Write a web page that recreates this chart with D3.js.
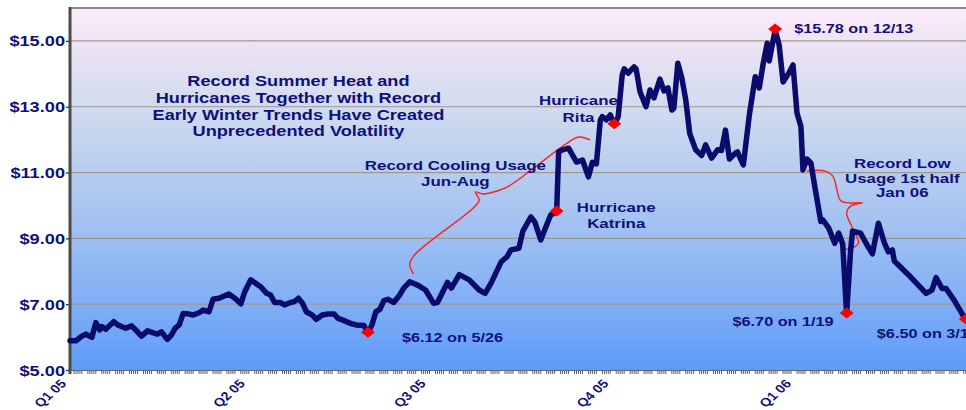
<!DOCTYPE html>
<html><head><meta charset="utf-8">
<script src="https://cdn.jsdelivr.net/npm/d3@7"></script>
<style>html,body{margin:0;padding:0;background:#fff;overflow:hidden}</style>
</head><body><svg id="c" width="966" height="410"></svg>
<script>
// ---------- data ----------
const quarterLabels = ["Q1 05", "Q2 05", "Q3 05", "Q4 05", "Q1 06"];
const quarterStarts = ["2005-01-01", "2005-04-01", "2005-07-01", "2005-10-01", "2006-01-01"];
const yTicks = [5, 7, 9, 11, 13, 15];
// day offsets from 2005-01-01
const days = [0,3,6,8,11,13,15,16,18,22,
  24,28,31,34,36,39,42,44,46,49,
  51,53,55,57,60,62,65,67,70,72,
  75,80,83,86,88,91,94,96,99,101,
  103,106,108,111,113,115,117,119,122,124,
  127,130,133,135,138,141,144,148,150,152,
  154,156,158,160,163,166,168,171,175,179,
  183,185,190,192,196,201,206,209,212,217,
  220,222,226,228,232,234,237,239,242,245,
  246,248,251,253,255,258,261,263,265,267,
  268,270,272,274,276,278,279,281,284,285,
  287,290,292,294,297,299,301,303,304,306,
  308,310,312,315,318,320,323,326,328,330,
  332,335,336,339,342,345,347,349,351,352,
  355,357,359,362,364,366,368,369,371,373,
  375,378,379,382,385,387,389,391,393,394,
  398,401,404,407,410,412,414,415,423,431,
  434,436,439,441,445,451];
const prices = [5.89,5.89,6.03,6.09,5.99,6.44,6.22,6.32,6.24,6.47,
  6.37,6.27,6.34,6.16,6.03,6.19,6.13,6.09,6.16,5.93,
  6.06,6.27,6.37,6.72,6.70,6.67,6.74,6.82,6.77,7.15,
  7.18,7.31,7.18,7.01,7.38,7.74,7.61,7.53,7.33,7.28,
  7.05,7.05,6.98,7.05,7.08,7.18,7.03,6.77,6.67,6.54,
  6.67,6.70,6.70,6.57,6.50,6.42,6.37,6.35,6.12,6.37,
  6.77,6.84,7.11,7.15,7.05,7.28,7.49,7.68,7.58,7.43,
  7.03,7.05,7.66,7.49,7.90,7.74,7.43,7.33,7.64,8.28,
  8.44,8.65,8.70,9.22,9.65,9.50,8.95,9.26,9.71,9.80,
  11.63,11.69,11.74,11.53,11.32,11.38,10.87,11.31,11.26,12.60,
  12.70,12.60,12.75,12.45,12.70,13.97,14.15,14.02,14.21,14.15,
  13.45,13.00,13.51,13.27,13.84,13.48,13.57,12.90,12.95,14.32,
  13.88,13.21,12.19,11.69,11.52,11.84,11.44,11.69,11.67,12.29,
  11.41,11.59,11.63,11.23,12.75,13.91,13.57,14.32,14.93,14.39,
  15.33,14.88,13.75,14.03,14.27,12.81,12.39,11.08,11.41,11.29,
  10.56,9.51,9.56,9.31,8.85,9.16,8.83,6.70,8.65,9.22,
  9.16,8.83,8.53,9.46,8.86,8.59,8.65,8.31,7.84,7.33,
  7.43,7.81,7.48,7.48,7.13,6.52];
const markerDays = [150, 245, 274, 355, 391, 451];
const markerLabels = ["$6.12 on 5/26", "", "", "$15.78 on 12/13", "$6.70 on 1/19", "$6.50 on 3/17"];
const markerLabelOffsets = [[34, 9, "start"], [0,0,"start"], [0,0,"start"], [19, 3, "start"], [-13, 12, "end"], [-89, 18, "start"]];
// free annotations: [day, price of first baseline, line gap px, lines, font size]
const notes = [
  [115, 13.63, 16.8, ["Record Summer Heat and", "Hurricanes Together with Record", "Early Winter Trends Have Created", "Unprecedented Volatility"], 14],
  [194, 11.08, 16, ["Record Cooling Usage", "Jun-Aug"], 13],
  [256.3, 13.05, 17, ["Hurricane", "Rita"], 13],
  [275.4, 9.80, 15.5, ["Hurricane", "Katrina"], 13],
  [419.4, 11.14, 14.6, ["Record Low", "Usage 1st half", "Jan 06"], 13]
];
// brace annotations in data coords [day, price]
const braceCooling = [[173.7,7.92],[171.7,8.22],[174.2,8.53],[203.4,9.92],[206.9,10.17],[204.9,10.41],[208.4,10.35],[215.5,10.44],[221.5,10.59],[249.2,11.84],[256.8,12.08],[262.8,11.99]];
const braceLow = [[371.6,11.05],[380.6,11.05],[384.1,10.90],[388.6,10.14],[392.1,10.08],[399.2,10.08],[393.2,9.98],[391.2,9.77],[397.2,8.86],[395.2,8.74],[389.7,8.65]];

// ---------- chart ----------
const SX = 1.3;
const NAVY = "#10107a";
const FONT = "Liberation Sans, Arial, sans-serif";
const svg = d3.select("#c");
const parse = d3.timeParse("%Y-%m-%d");
const start = parse("2005-01-01");
const x = d3.scaleTime().domain([start, parse("2006-01-01")]).range([70, 795]);
const y = d3.scaleLinear().domain([5, 16]).range([370, 8]);
const xd = d => x(d3.timeDay.offset(start, d));
const pL = 70, pT = 8, pB = 370, pR = 966;

const defs = svg.append("defs");
const grad = defs.append("linearGradient").attr("id", "bg").attr("x1", 0).attr("y1", 0).attr("x2", 0).attr("y2", 1);
[[0, "#fcebf8"], [0.1, "#ece3f4"], [0.28, "#d0dbef"], [0.46, "#b6ccef"], [0.64, "#9cbef2"], [0.82, "#80aef5"], [1, "#5c9cfa"]]
  .forEach(([o, c]) => grad.append("stop").attr("offset", o).attr("stop-color", c));

svg.append("rect").attr("x", pL).attr("y", pT).attr("width", pR - pL).attr("height", pB - pT).attr("fill", "url(#bg)");

// gridlines
svg.append("g").selectAll("line").data(yTicks.filter(v => v > 5)).join("line")
  .attr("x1", pL).attr("x2", pR).attr("y1", d => y(d)).attr("y2", d => y(d))
  .attr("stroke", "#9c9890").attr("stroke-width", 1.2);
// top border
svg.append("line").attr("x1", pL).attr("x2", pR).attr("y1", pT).attr("y2", pT).attr("stroke", "#8a8a8a").attr("stroke-width", 2);

// day ticks along bottom (weekdays)
const tickDays = d3.timeDay.range(start, d3.timeDay.offset(start, 453)).filter(d => d.getDay() !== 0 && d.getDay() !== 6);
svg.append("g").selectAll("line").data(tickDays).join("line")
  .attr("x1", d => x(d)).attr("x2", d => x(d)).attr("y1", pB).attr("y2", pB + 4)
  .attr("stroke", "#333").attr("stroke-width", 0.8);
svg.append("line").attr("x1", pL).attr("x2", pR).attr("y1", pB + 0.5).attr("y2", pB + 0.5).attr("stroke", "#666").attr("stroke-width", 1);

// y axis
const yAxis = svg.append("g").attr("transform", `translate(${pL},0)`)
  .call(d3.axisLeft(y).tickValues(yTicks).tickFormat(d => "$" + d.toFixed(2)).tickSize(4).tickPadding(2));
yAxis.select(".domain").remove();
yAxis.selectAll(".tick line").attr("stroke", "#222").attr("stroke-width", 1.2);
yAxis.selectAll(".tick text").attr("fill", NAVY).attr("font-family", FONT)
  .attr("font-weight", "bold").attr("font-size", 14).attr("x", -5 / SX).attr("dy", "0.36em")
  .attr("transform", `scale(${SX},1)`);
svg.append("line").attr("x1", pL).attr("x2", pL).attr("y1", pT - 1).attr("y2", pB + 4).attr("stroke", "#4a4a4a").attr("stroke-width", 3);

// x labels (rotated, then stretched like the rest of the picture)
svg.append("g").selectAll("text").data(quarterLabels).join("text")
  .attr("transform", (d, i) => `translate(${x(parse(quarterStarts[i])) - 3},${pB + 14}) scale(1.2,1) rotate(-48)`)
  .attr("text-anchor", "end").attr("fill", NAVY).attr("font-family", FONT)
  .attr("font-weight", "bold").attr("font-size", 12).text(d => d);

// braces
const bl = d3.line().x(d => xd(d[0])).y(d => y(d[1])).curve(d3.curveCatmullRom);
[braceCooling, braceLow].forEach(b => svg.append("path").attr("d", bl(b)).attr("fill", "none").attr("stroke", "#ff2020").attr("stroke-width", 1.4));

// price line
const series = days.map((d, i) => ({ d, v: prices[i] }));
const line = d3.line().x(p => xd(p.d)).y(p => y(p.v));
svg.append("path").attr("d", line(series)).attr("fill", "none").attr("stroke", "#0b0b6c").attr("stroke-width", 5.5)
  .attr("stroke-linejoin", "round").attr("stroke-linecap", "round");

// markers
const markers = markerDays.map(md => series.find(p => p.d === md));
svg.append("g").selectAll("path").data(markers).join("path")
  .attr("transform", p => `translate(${xd(p.d)},${y(p.v) - 1})`)
  .attr("d", "M0,-5.5L7,0L0,5.5L-7,0Z").attr("fill", "#ff0000");

function stretchText(g, px, py, str, size, anchor) {
  g.append("text").attr("transform", `translate(${px},${py}) scale(${SX},1)`)
    .attr("text-anchor", anchor).attr("fill", NAVY).attr("font-family", FONT)
    .attr("font-weight", "bold").attr("font-size", size).text(str);
}
const tg = svg.append("g");
markers.forEach((p, i) => {
  if (!markerLabels[i]) return;
  const [dx, dy, a] = markerLabelOffsets[i];
  stretchText(tg, xd(p.d) + dx, y(p.v) + dy, markerLabels[i], 12.5, a);
});
notes.forEach(([d, v, gap, lines, size]) => {
  lines.forEach((s, j) => stretchText(tg, xd(d), y(v) + j * gap, s, size, "middle"));
});
</script></body></html>
